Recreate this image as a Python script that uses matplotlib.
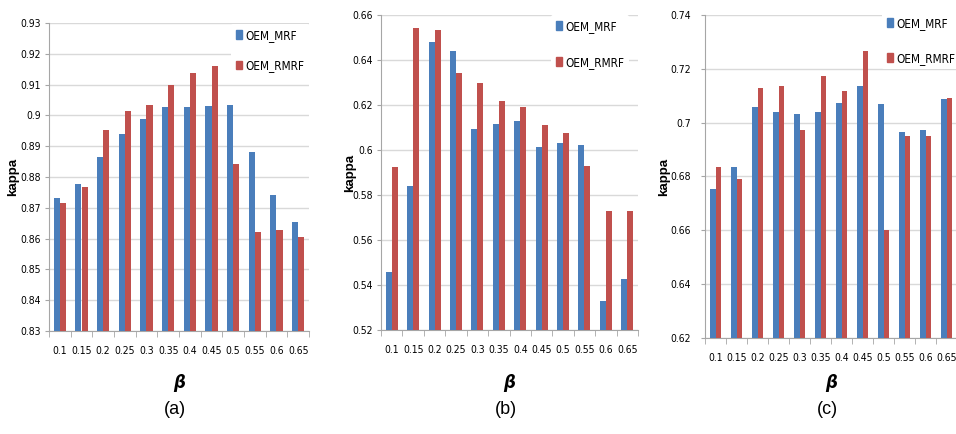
import numpy as np
import matplotlib
matplotlib.use("Agg")
import matplotlib.pyplot as plt
from matplotlib.patches import Patch

# --- data ---
betas = ["0.1", "0.15", "0.2", "0.25", "0.3", "0.35", "0.4", "0.45", "0.5", "0.55", "0.6", "0.65"]

mrf_a = [0.8733, 0.8776, 0.8865, 0.8939, 0.8989, 0.9028, 0.9028, 0.9030, 0.9033, 0.8882, 0.8742, 0.8655]
rmrf_a = [0.8714, 0.8769, 0.8952, 0.9014, 0.9033, 0.9100, 0.9137, 0.9160, 0.8843, 0.8621, 0.8627, 0.8605]

mrf_b = [0.5459, 0.5841, 0.6479, 0.6441, 0.6093, 0.6114, 0.6130, 0.6015, 0.6033, 0.6021, 0.5329, 0.5425]
rmrf_b = [0.5923, 0.6541, 0.6533, 0.6344, 0.6299, 0.6219, 0.6191, 0.6110, 0.6077, 0.5930, 0.5729, 0.5729]

mrf_c = [0.6755, 0.6837, 0.7058, 0.7038, 0.7031, 0.7041, 0.7074, 0.7138, 0.7069, 0.6964, 0.6973, 0.7087]
rmrf_c = [0.6837, 0.6790, 0.7128, 0.7137, 0.6972, 0.7172, 0.7118, 0.7268, 0.6600, 0.6950, 0.6950, 0.7093]

ylims = [(0.83, 0.93, 0.01), (0.52, 0.66, 0.02), (0.62, 0.74, 0.02)]
panel_names = ["(a)", "(b)", "(c)"]
legend_labels = ["OEM_MRF", "OEM_RMRF"]

BLUE = "#4a7ebb"
RED = "#c0504d"
GRID = "#d9d9d9"
AXIS = "#a6a6a6"
TICKFONT = dict(family="DejaVu Sans", stretch="condensed", fontsize=7.5)

W, H = 956, 434
fig = plt.figure(figsize=(W / 100, H / 100), dpi=100)


def px_axes(left, right, top, bottom):
    return fig.add_axes([left / W, 1 - bottom / H, (right - left) / W, (bottom - top) / H])


# pixel boxes of the three plot areas (left, right, top, bottom)
boxes = [(49, 309, 23, 331), (381, 638, 15, 330), (705, 957, 15, 338)]
# legend anchor (left, top) in pixels, and spacing between entries
legend_pos = [(231, 24), (551, 15), (882, 12)]
legend_gap = [1.5, 1.95, 1.85]
ytick_pad = [3, 3, 7]
ylabel_x = [13, 350, 664]
panel_label_y = 410

series = [(mrf_a, rmrf_a), (mrf_b, rmrf_b), (mrf_c, rmrf_c)]
x = np.arange(len(betas))
bw = 0.28

for k, ((mrf, rmrf), (lo, hi, step), box) in enumerate(zip(series, ylims, boxes)):
    ax = px_axes(*box)
    ax.bar(x - bw / 2, np.array(mrf) - lo, bw, bottom=lo, color=BLUE, zorder=3)
    ax.bar(x + bw / 2, np.array(rmrf) - lo, bw, bottom=lo, color=RED, zorder=3)

    ax.set_xlim(-0.5, len(betas) - 0.5)
    ax.set_ylim(lo, hi)
    yt = np.round(np.arange(lo, hi + step / 2, step), 3)
    ax.set_yticks(yt)
    ax.set_yticklabels(["{:g}".format(v) for v in yt], **TICKFONT)
    ax.yaxis.grid(True, color=GRID, lw=1, zorder=0)
    ax.set_axisbelow(True)

    ax.set_xticks(x)
    ax.set_xticklabels(betas, **TICKFONT)
    ax.set_xticks(np.arange(-0.5, len(betas)), minor=True)
    ax.tick_params(axis="x", which="major", length=0, pad=11)
    ax.tick_params(axis="x", which="minor", length=4, color=AXIS, direction="out")
    ax.tick_params(axis="y", length=3, color=AXIS, pad=ytick_pad[k])

    for s in ("top", "right"):
        ax.spines[s].set_visible(False)
    for s in ("left", "bottom"):
        ax.spines[s].set_color(AXIS)
        ax.spines[s].set_linewidth(0.8)

    # kappa label
    fig.text(ylabel_x[k] / W, 1 - ((box[2] + box[3]) / 2) / H, "kappa", rotation=90,
             fontsize=9.5, fontweight="bold", family="Liberation Sans", ha="center", va="center")
    # beta label
    cx = (box[0] + box[1]) / 2
    fig.text(cx / W, 1 - 383 / H, "β", fontsize=12, fontstyle="italic", fontweight="bold",
             family="DejaVu Sans", ha="center", va="center")
    # panel label
    fig.text((cx - 4) / W, 1 - panel_label_y / H, panel_names[k], fontsize=13,
             family="Liberation Sans", ha="center", va="center")

    handles = [Patch(color=BLUE), Patch(color=RED)]
    lx, ly = legend_pos[k]
    leg = ax.legend(handles, legend_labels, loc="upper left",
                    bbox_to_anchor=(lx / W, 1 - ly / H), bbox_transform=fig.transFigure,
                    frameon=True, facecolor="white", edgecolor="none", framealpha=1,
                    handlelength=0.55, handleheight=0.7, handletextpad=0.25,
                    labelspacing=legend_gap[k], borderpad=0.4, borderaxespad=0,
                    prop={"family": "DejaVu Sans", "stretch": "condensed", "size": 8.5})
    leg.set_zorder(5)

fig.savefig("out.png", dpi=100)
